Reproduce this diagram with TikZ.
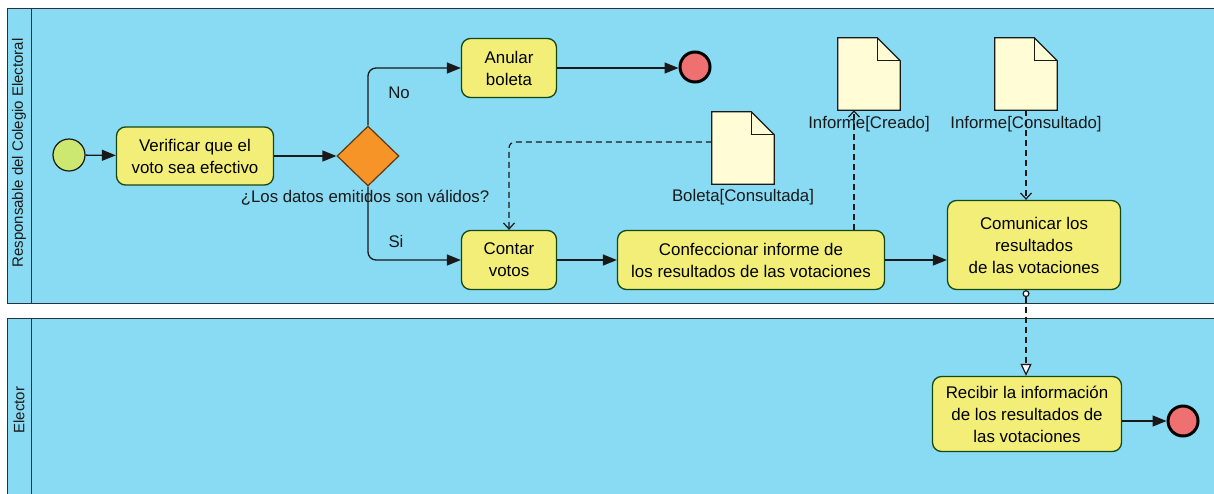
\documentclass[tikz,border=0pt]{standalone}
\usepackage{fontspec}
\setmainfont{Liberation Sans}
\usetikzlibrary{arrows.meta,shapes.geometric,calc}

\definecolor{lanefill}{RGB}{136,219,243}
\definecolor{laneline}{RGB}{40,50,60}
\definecolor{taskfill}{RGB}{242,238,120}
\definecolor{docfill}{RGB}{255,252,214}
\definecolor{startfill}{RGB}{204,232,112}
\definecolor{endfill}{RGB}{238,112,112}
\definecolor{gatefill}{RGB}{247,148,40}
\definecolor{inkline}{RGB}{25,25,25}

\tikzset{
  lane/.style={draw=laneline, fill=lanefill, line width=1pt},
  taskbox/.style={draw=inkline!80!green, fill=taskfill, rounded corners=9pt, line width=1.3pt,
    align=center, inner sep=0pt, font=\fontsize{16.9}{22}\selectfont},
  startev/.style={circle, draw=inkline, fill=startfill, line width=1.2pt, minimum size=32pt, inner sep=0pt},
  endev/.style={circle, draw=black, fill=endfill, line width=3pt, minimum size=30pt, inner sep=0pt},
  gateway/.style={diamond, draw=inkline!70!orange, fill=gatefill, line width=1.2pt,
    minimum width=62pt, minimum height=60pt, inner sep=0pt},
  docbox/.style={minimum width=62pt, minimum height=72pt, inner sep=0pt},
  docshape/.style={draw=inkline, fill=docfill, line width=1.2pt},
  flow/.style={draw=inkline, line width=1.3pt, -{Triangle[length=14pt,width=11pt]}},
  dataflow/.style={draw=inkline, line width=1.2pt, dash pattern=on 6pt off 4pt,
    -{Straight Barb[length=6pt,width=11pt]}},
  msgflow/.style={draw=inkline, line width=1.2pt, dash pattern=on 6pt off 4pt,
    {Circle[open,fill=white,length=7pt]}-{Triangle[open,fill=white,length=12pt,width=11pt]}},
  lbl/.style={font=\fontsize{16.8}{18}\selectfont, text=inkline, inner sep=0pt},
  lanelbl/.style={font=\fontsize{15}{17}\selectfont, rotate=90, inner sep=0pt, text=inkline}
}

% draws a document shape with a folded corner over the named node
\newcommand{\docdraw}[1]{%
  \draw[docshape] (#1.north west) -- ($(#1.north east)+(-23,0)$) -- ($(#1.north east)+(0,23)$)
    -- (#1.south east) -- (#1.south west) -- cycle;
  \draw[docshape, fill=none] ($(#1.north east)+(-23,0)$) -- ($(#1.north east)+(-23,23)$) -- ($(#1.north east)+(0,23)$);
}

\begin{document}
\begin{tikzpicture}[x=1pt,y=-1pt]
\useasboundingbox (0,0) rectangle (1214,493);
\fill[white] (0,0) rectangle (1214,493);

% swimlanes
\draw[lane] (7,8) rectangle (1220,303);
\draw[laneline, line width=1pt] (31,8) -- (31,303);
\node[lanelbl] (lane1) at (19,153) {Responsable del Colegio Electoral};

\draw[lane] (7,318) rectangle (1220,505);
\draw[laneline, line width=1pt] (31,318) -- (31,505);
\node[lanelbl] (lane2) at (19,410) {Elector};

% events, tasks, gateway
\node[startev] (start) at (69,155) {};
\node[taskbox, minimum width=157pt, minimum height=58pt] (verif) at (195,156) {Verificar que el\\voto sea efectivo};
\node[gateway] (gw) at (368,156) {};
\node[lbl] (gwlbl) at (365,198) {¿Los datos emitidos son válidos?};

\node[taskbox, minimum width=95pt, minimum height=59pt] (anular) at (509,68) {Anular\\boleta};
\node[endev] (end1) at (695,67) {};

\node[taskbox, minimum width=95pt, minimum height=59pt] (contar) at (509,260) {Contar\\votos};
\node[taskbox, minimum width=267pt, minimum height=59pt] (confec) at (751,260) {Confeccionar informe de\\los resultados de las votaciones};
\node[taskbox, minimum width=173pt, minimum height=89pt] (comun) at (1034,245) {Comunicar los\\resultados\\de las votaciones};

\node[taskbox, minimum width=189pt, minimum height=75pt] (recib) at (1027,414) {Recibir la información\\de los resultados de\\las votaciones};
\node[endev] (end2) at (1183,421) {};

% data objects
\node[docbox] (boleta) at (743,148) {};
\docdraw{boleta}
\node[lbl] (boletalbl) at (743,197) {Boleta[Consultada]};

\node[docbox] (creado) at (869,74) {};
\docdraw{creado}
\node[lbl] (creadolbl) at (869,124) {Informe[Creado]};

\node[docbox] (consul) at (1026,74) {};
\docdraw{consul}
\node[lbl] (consullbl) at (1026,124) {Informe[Consultado]};

% sequence flows
\draw[flow] (start) -- (verif);
\draw[flow] (verif) -- (gw.west);
\draw[flow, rounded corners=8pt] (gw.north) |- (anular.west);
\draw[flow, rounded corners=8pt] (gw.south) |- (contar.west);
\node[lbl] (nolbl) at (399,93) {No};
\node[lbl] (silbl) at (396,241) {Si};
\draw[flow] (anular.east) -- (anular.east -| end1.west);
\draw[flow] (contar) -- (confec);
\draw[flow] (confec.east) -- (confec.east -| comun.west);
\draw[flow] (recib.east |- end2) -- (end2);

% data associations
\draw[dataflow, rounded corners=6pt] ([yshift=6pt]boleta.west) -| (contar.north);
\coordinate (crin) at ([xshift=-15pt]creado.south);
\draw[dataflow] (crin |- confec.north) -- (crin);
\draw[dataflow] (consul.south) -- (consul.south |- comun.north);

% message flow
\draw[msgflow] (consul.south |- comun.south) -- (consul.south |- recib.north);
\end{tikzpicture}
\end{document}
